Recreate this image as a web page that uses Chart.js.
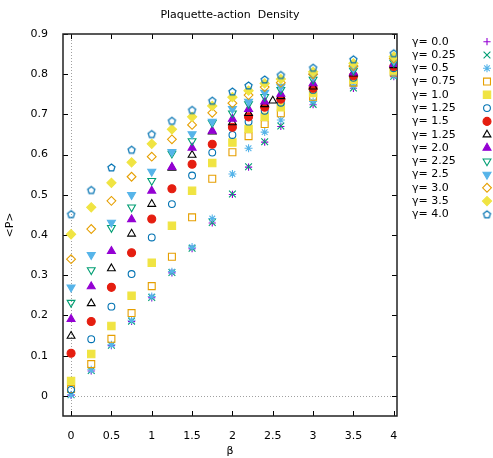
<!DOCTYPE html>
<html>
<head>
<meta charset="utf-8">
<script src="https://cdn.jsdelivr.net/npm/chart.js@4/dist/chart.umd.min.js"></script>
<style>
  html, body { margin: 0; padding: 0; background: #fff; }
</style>
</head>
<body>
<canvas id="chart" width="493" height="458"></canvas>
<script>
// beta values (x)
const betas = [0, 0.25, 0.5, 0.75, 1, 1.25, 1.5, 1.75, 2, 2.2, 2.4, 2.6, 3, 3.5, 4];
// the black-triangle series has one extra point at 2.5
const betasG175 = [0, 0.25, 0.5, 0.75, 1, 1.25, 1.5, 1.75, 2, 2.2, 2.4, 2.5, 2.6, 3, 3.5, 4];

const xTicks = [0, 0.5, 1, 1.5, 2, 2.5, 3, 3.5, 4];
const yTicks = [0, 0.1, 0.2, 0.3, 0.4, 0.5, 0.6, 0.7, 0.8, 0.9];

const gammaLabels = ["γ= 0.0", "γ= 0.25", "γ= 0.5", "γ= 0.75", "γ= 1.0", "γ= 1.25", "γ= 1.5",
                     "γ= 1.25", "γ= 2.0", "γ= 2.25", "γ= 2.5", "γ= 3.0", "γ= 3.5", "γ= 4.0"];

// <P>
const pG000 = [0.002, 0.062, 0.125, 0.185, 0.244, 0.306, 0.366, 0.430, 0.501, 0.569, 0.631, 0.670, 0.724, 0.765, 0.794];
const pG025 = [0.003, 0.063, 0.126, 0.186, 0.245, 0.307, 0.367, 0.431, 0.502, 0.570, 0.632, 0.671, 0.725, 0.766, 0.795];
const pG050 = [0.003, 0.065, 0.127, 0.188, 0.247, 0.309, 0.370, 0.441, 0.552, 0.616, 0.656, 0.686, 0.732, 0.771, 0.797];
const pG075 = [0.017, 0.079, 0.142, 0.206, 0.273, 0.346, 0.444, 0.540, 0.606, 0.646, 0.676, 0.703, 0.744, 0.779, 0.804];
const pG100 = [0.037, 0.104, 0.174, 0.249, 0.331, 0.423, 0.510, 0.579, 0.630, 0.664, 0.694, 0.718, 0.753, 0.786, 0.809];
const pG125 = [0.015, 0.141, 0.222, 0.303, 0.394, 0.477, 0.548, 0.605, 0.649, 0.682, 0.709, 0.729, 0.761, 0.791, 0.815];
const pG150 = [0.106, 0.185, 0.270, 0.356, 0.440, 0.515, 0.576, 0.626, 0.668, 0.694, 0.718, 0.738, 0.765, 0.796, 0.819];
const pG175 = [0.149, 0.230, 0.317, 0.403, 0.477, 0.567, 0.599, 0.657, 0.680, 0.703, 0.725, 0.734, 0.745, 0.769, 0.801, 0.822];
const pG200 = [0.191, 0.272, 0.360, 0.439, 0.510, 0.569, 0.617, 0.659, 0.689, 0.713, 0.732, 0.751, 0.777, 0.804, 0.825];
const pG225 = [0.232, 0.313, 0.418, 0.469, 0.535, 0.603, 0.634, 0.679, 0.703, 0.726, 0.744, 0.761, 0.787, 0.809, 0.829];
const pG250 = [0.270, 0.351, 0.431, 0.500, 0.558, 0.607, 0.651, 0.682, 0.714, 0.732, 0.754, 0.769, 0.794, 0.815, 0.834];
const pG300 = [0.340, 0.415, 0.485, 0.545, 0.595, 0.638, 0.674, 0.704, 0.728, 0.748, 0.768, 0.779, 0.800, 0.820, 0.839];
const pG350 = [0.402, 0.469, 0.530, 0.581, 0.627, 0.663, 0.694, 0.721, 0.743, 0.759, 0.777, 0.788, 0.806, 0.827, 0.844];
const pG400 = [0.452, 0.512, 0.568, 0.612, 0.651, 0.684, 0.711, 0.734, 0.757, 0.772, 0.787, 0.798, 0.816, 0.837, 0.852];

const FONT = "'DejaVu Sans', sans-serif";
const NONE = "rgba(0,0,0,0)";

// open pentagon marker (gnuplot pt 14)
function pentagon(color) {
  const c = document.createElement("canvas");
  c.width = 11; c.height = 11;
  const g = c.getContext("2d");
  g.strokeStyle = color; g.lineWidth = 1.2;
  g.beginPath();
  for (let k = 0; k < 5; k++) {
    const a = -Math.PI / 2 + k * 2 * Math.PI / 5;
    const px = 5.5 + 3.7 * Math.cos(a), py = 5.8 + 3.7 * Math.sin(a);
    k ? g.lineTo(px, py) : g.moveTo(px, py);
  }
  g.closePath(); g.stroke();
  return c;
}

const styles = [
  { color: "#9400d3", shape: "cross",    r: 3.6, fill: false },
  { color: "#009e73", shape: "crossRot", r: 4.8, fill: false },
  { color: "#56b4e9", shape: "star",     r: 4.0, fill: false },
  { color: "#e69f00", shape: "rect",     r: 4.9, fill: false },
  { color: "#f0e442", shape: "rect",     r: 5.2, fill: true },
  { color: "#0072b2", shape: "circle",   r: 3.4, fill: false },
  { color: "#e51e10", shape: "circle",   r: 4.0, fill: true },
  { color: "#000000", shape: "triangle", r: 4.5, fill: false },
  { color: "#9400d3", shape: "triangle", r: 4.6, fill: true },
  { color: "#009e73", shape: "triangle", r: 4.5, fill: false, rot: 180 },
  { color: "#56b4e9", shape: "triangle", r: 4.6, fill: true, rot: 180 },
  { color: "#e69f00", shape: "rectRot",  r: 4.4, fill: false },
  { color: "#f0e442", shape: "rectRot",  r: 4.6, fill: true },
  { color: "#0072b2", shape: pentagon("#0072b2"), r: 4.0, fill: false }
];

const series = [pG000, pG025, pG050, pG075, pG100, pG125, pG150, pG175, pG200, pG225, pG250, pG300, pG350, pG400];

const datasets = series.map((vals, i) => {
  const xs = vals === pG175 ? betasG175 : betas;
  const s = styles[i];
  return {
    label: gammaLabels[i],
    data: vals.map((v, j) => ({ x: xs[j], y: v })),
    showLine: false,
    pointStyle: s.shape,
    pointRadius: s.r,
    pointRotation: s.rot || 0,
    pointBorderWidth: 1.1,
    borderColor: s.color,
    backgroundColor: s.fill ? s.color : NONE,
    order: series.length - i
  };
});

// gnuplot style frame, inward ticks on all sides, dotted zero axes
const framePlugin = {
  id: "frame",
  beforeDatasetsDraw(chart) {
    const { ctx, chartArea: a, scales: { x, y } } = chart;
    ctx.save();
    ctx.strokeStyle = "#a0a0a0";
    ctx.lineWidth = 1;
    ctx.setLineDash([1, 2]);
    const x0 = Math.round(x.getPixelForValue(0)) + 0.5;
    const y0 = Math.round(y.getPixelForValue(0)) + 0.5;
    ctx.beginPath();
    ctx.moveTo(a.left, y0); ctx.lineTo(a.right, y0);
    ctx.moveTo(x0, a.top); ctx.lineTo(x0, a.bottom);
    ctx.stroke();
    ctx.setLineDash([]);
    ctx.strokeStyle = "#000";
    ctx.lineWidth = 1;
    ctx.beginPath();
    xTicks.forEach(v => {
      const px = Math.round(x.getPixelForValue(v)) + 0.5;
      ctx.moveTo(px, a.bottom); ctx.lineTo(px, a.bottom - 5);
      ctx.moveTo(px, a.top); ctx.lineTo(px, a.top + 5);
    });
    yTicks.forEach(v => {
      const py = Math.round(y.getPixelForValue(v)) + 0.5;
      ctx.moveTo(a.left, py); ctx.lineTo(a.left + 5, py);
      ctx.moveTo(a.right, py); ctx.lineTo(a.right - 5, py);
    });
    ctx.stroke();
    ctx.strokeStyle = "#222";
    ctx.lineWidth = 1.5;
    ctx.strokeRect(a.left, a.top, a.right - a.left, a.bottom - a.top);
    ctx.restore();
  }
};

// key on the right: text first, then the marker
const keyPlugin = {
  id: "key",
  afterDraw(chart) {
    const { ctx } = chart;
    ctx.save();
    ctx.font = "11px " + FONT;
    ctx.textBaseline = "middle";
    ctx.textAlign = "left";
    chart.data.datasets.forEach((ds, i) => {
      const yy = 41.7 + i * 13.28;
      ctx.fillStyle = "#000";
      ctx.fillText(ds.label, 412, yy);
      ctx.strokeStyle = ds.borderColor;
      ctx.fillStyle = ds.backgroundColor;
      ctx.lineWidth = ds.pointBorderWidth;
      Chart.helpers.drawPoint(ctx, {
        pointStyle: ds.pointStyle, radius: ds.pointRadius,
        rotation: ds.pointRotation, borderWidth: ds.pointBorderWidth
      }, 487, yy);
    });
    ctx.restore();
  }
};

new Chart(document.getElementById("chart"), {
  type: "scatter",
  data: { datasets },
  options: {
    responsive: false,
    animation: false,
    devicePixelRatio: 1,
    layout: { padding: { left: 0, right: 96, top: 0, bottom: 0 } },
    plugins: {
      legend: { display: false },
      tooltip: { enabled: false },
      title: {
        display: true,
        text: "Plaquette-action  Density",
        color: "#000",
        fullSize: false,
        font: { family: FONT, size: 11, weight: "normal" },
        padding: { top: 8.2, bottom: 12.6 }
      }
    },
    scales: {
      x: {
        type: "linear",
        min: -0.1,
        max: 4.04,
        afterBuildTicks: s => { s.ticks = xTicks.map(v => ({ value: v })); },
        afterFit: s => { s.height = 42; },
        grid: { display: false },
        border: { display: false },
        ticks: { color: "#000", font: { family: FONT, size: 11 }, padding: 6, maxRotation: 0,
                 callback: v => String(v) },
        title: { display: true, text: "β", color: "#000", font: { family: FONT, size: 11 }, padding: 0 }
      },
      y: {
        type: "linear",
        min: -0.05,
        max: 0.9,
        afterBuildTicks: s => { s.ticks = yTicks.map(v => ({ value: v })); },
        afterFit: s => { s.width = 63; },
        grid: { display: false },
        border: { display: false },
        ticks: { color: "#000", font: { family: FONT, size: 11 }, padding: 7,
                 callback: v => String(Math.round(v * 10) / 10) },
        title: { display: true, text: "<P>", color: "#000", font: { family: FONT, size: 11 }, padding: { top: 4 } }
      }
    }
  },
  plugins: [framePlugin, keyPlugin]
});
</script>
</body>
</html>
